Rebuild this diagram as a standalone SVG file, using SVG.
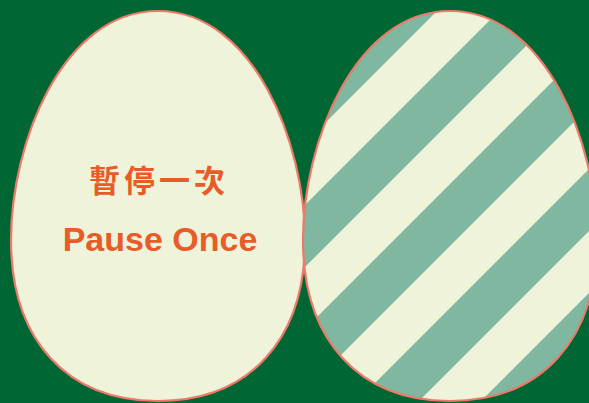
<svg xmlns="http://www.w3.org/2000/svg" width="589" height="403" viewBox="0 0 589 403">
  <style>
    .egg { fill: #eff3da; stroke: #ec7a6a; stroke-width: 2.2; }
    .eggline { fill: none; stroke: #ec7a6a; stroke-width: 2.2; }
    .stripe { stroke: #80b7a0; stroke-width: 43.8; }
    .cjk { font-family: "Noto Sans CJK TC", "Noto Sans CJK SC", sans-serif; font-weight: 700; font-size: 31px; fill: #e85c2a; }
    .lat { font-family: "Liberation Sans", Arial, sans-serif; font-weight: 700; font-size: 34px; fill: #e85c2a; }
  </style>
  <defs>
    <path id="eggShape" d="M0 11 C-96 11 -147 144 -147 240 C-147 340 -91 401 0 401 C91 401 147 340 147 240 C147 144 96 11 0 11 Z"/>
    <clipPath id="rightClip">
      <use href="#eggShape" transform="translate(450 0)"/>
    </clipPath>
  </defs>
  <rect x="0" y="0" width="589" height="403" fill="#006633"/>
  <g id="egg-left">
    <use href="#eggShape" class="egg" transform="translate(158 0)"/>
    <text class="cjk" x="159" y="192" text-anchor="middle" letter-spacing="4">暫停一次</text>
    <text class="lat" x="160" y="251" text-anchor="middle">Pause Once</text>
  </g>
  <g id="egg-right">
    <use href="#eggShape" transform="translate(450 0)" fill="#eff3da"/>
    <g clip-path="url(#rightClip)">
      <line class="stripe" x1="437" y1="-20" x2="-13" y2="430"/>
      <line class="stripe" x1="561" y1="-20" x2="111" y2="430"/>
      <line class="stripe" x1="685" y1="-20" x2="235" y2="430"/>
      <line class="stripe" x1="809" y1="-20" x2="359" y2="430"/>
      <line class="stripe" x1="933" y1="-20" x2="483" y2="430"/>
    </g>
    <use href="#eggShape" class="eggline" transform="translate(450 0)"/>
  </g>
</svg>
